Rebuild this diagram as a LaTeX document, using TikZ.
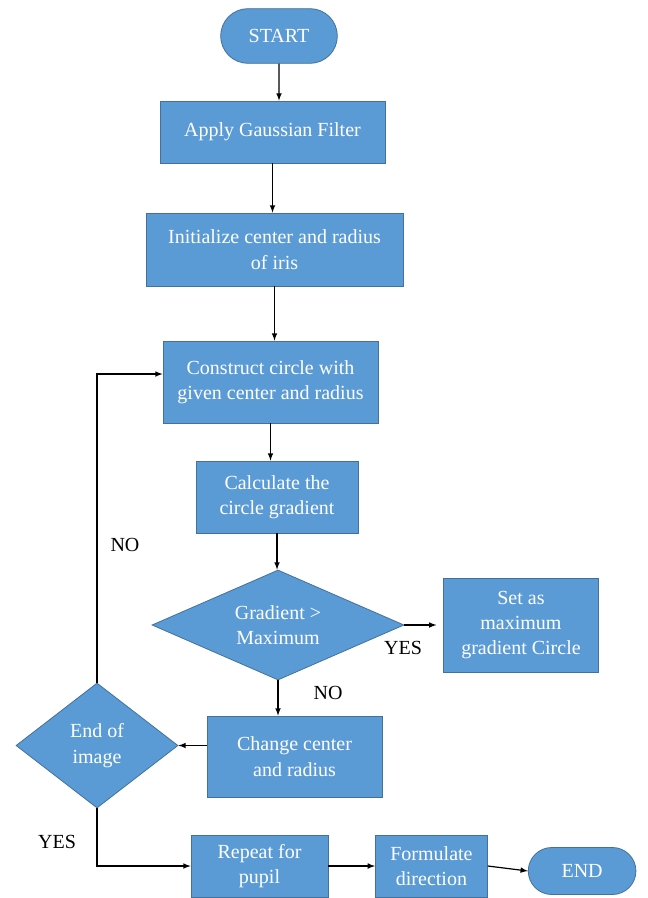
\documentclass[tikz,border=0pt]{standalone}
\usepackage{fontspec}
\setmainfont{Liberation Serif}
\newfontfamily\flowfont{Liberation Serif}
\usetikzlibrary{shapes,positioning,calc,arrows}
\definecolor{boxblue}{HTML}{5B9BD5}
\definecolor{boxline}{HTML}{41719C}

\begin{document}
\begin{tikzpicture}
[x=.75pt,y=-.75pt,
edge/.style={black,>=latex,line width=.9pt},
block/.style={draw=boxline,fill=boxblue,text=white,line width=.6pt,align=center,
  inner sep=2pt,font=\flowfont\fontsize{15}{19}\selectfont},
decide/.style={block,diamond,inner sep=0pt},
terminal/.style={block,rounded rectangle},
tag/.style={font=\flowfont\fontsize{15}{19}\selectfont}]
\useasboundingbox (0,0) rectangle (648,898);
%%
\node (start) [terminal,minimum width=91.5pt,minimum height=41pt] at (279,36) {START};
\node (gauss) [block,minimum width=168.75pt,minimum height=46.5pt] at (272.5,132)
{Apply Gaussian Filter};
\node (init) [block,minimum width=192.75pt,minimum height=54.75pt] at (274.5,249.5)
{Initialize center and radius\\of iris};
\node (circ) [block,minimum width=161.25pt,minimum height=61.5pt] at (270.5,382)
{Construct circle with\\given center and radius};
\node (calc) [block,minimum width=121.5pt,minimum height=54pt] at (277,497)
{Calculate the\\circle gradient};
%%
\node (cmp) [decide,aspect=2.3,minimum width=189pt,minimum height=82.5pt] at (278,625)
{Gradient >\\Maximum};
\node (best) [block,right=29pt of cmp,minimum width=116.25pt,minimum height=70.5pt]
{Set as\\maximum\\gradient Circle};
\node (move) [block,minimum width=131.25pt,minimum height=60.75pt] at (294.5,756.5)
{Change center\\and radius};
\node (last) [decide,aspect=1.3,minimum width=121.5pt,minimum height=93.75pt] at (97,745.5)
{End of\\image};
%%
\node (pupil) [block,minimum width=102.75pt,minimum height=46.5pt] at (259.5,866)
{Repeat for\\pupil};
\node (dir) [block,right=35pt of pupil,minimum width=84pt,minimum height=46.5pt]
{Formulate\\direction};
\node (stop) [terminal,right=30pt of dir,yshift=-3.75pt,minimum width=84.75pt,
minimum height=35.25pt] {END};
%%
\node [tag] (no1) at (125,545) {NO};
\node [tag] (yes1) at (403,648) {YES};
\node [tag] (no2) at (328,693) {NO};
\node [tag] (yes2) at (57,842) {YES};
%%
\draw[edge,->] (start) -- (start |- gauss.north);
\draw[edge,->] (gauss) -- (gauss |- init.north);
\draw[edge,->] (init) -- (init |- circ.north);
\draw[edge,->] (circ) -- (circ |- calc.north);
\draw[edge,->] (calc) -- (calc |- cmp.north);
\draw[edge,->,shorten >=5pt] (cmp) -- (best);
\draw[edge,->] (cmp.south) -- (cmp.south |- move.north);
\draw[edge,->] (move.west |- last.east) -- (last.east);
\draw[edge,->] (last.north) |- ($(circ.west)+(0,-8)$);
\draw[edge,->] (last.south) |- (pupil.west);
\draw[edge,->] (pupil) -- (dir);
\draw[edge,->] (dir.east) -- (stop.west);
\end{tikzpicture}
\end{document}
